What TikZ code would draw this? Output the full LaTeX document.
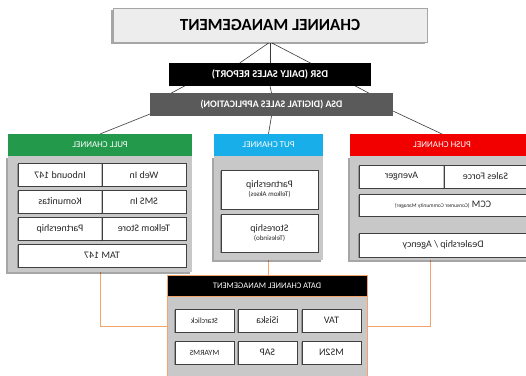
\documentclass[tikz,border=0pt]{standalone}
\usepackage{graphicx}
\usepackage{fontspec}
\setmainfont{Carlito}
\usetikzlibrary{shadows,calc}
\pgfdeclarelayer{bg}
\pgfsetlayers{bg,main}
\definecolor{pullgreen}{HTML}{23994C}
\definecolor{putcyan}{HTML}{17AEEA}
\definecolor{pushred}{HTML}{F20000}
\definecolor{dsagray}{HTML}{5A5A5A}
\definecolor{boxgray}{HTML}{C8C8C8}
\definecolor{titlegray}{HTML}{EDEDED}
\definecolor{linkorange}{HTML}{F3A46C}
\definecolor{linkgray}{HTML}{3A3A3A}
\newcommand{\mr}[1]{\reflectbox{#1}}
\newcommand{\fs}[1]{\fontsize{#1}{#1}\selectfont}
\tikzset{
  rbox/.style n args={2}{rectangle, inner sep=0pt, outer sep=0pt, minimum width=#1, minimum height=#2},
  shad/.style={drop shadow={shadow xshift=-1.6pt, shadow yshift=-1.6pt, opacity=0.35, fill=black}},
  titlebox/.style={draw=gray!70, fill=titlegray, line width=0.5pt, shad, font=\bfseries\fs{17}, text=black},
  barbox/.style={fill=#1, text=white, font=\bfseries\fs{10}},
  headbox/.style={fill=#1, text=white, font=\fs{9}},
  bodybox/.style={fill=boxgray, shad},
  cell/.style={draw=black!75, fill=white, line width=0.7pt, font=\fs{10}, text=black!85,
    drop shadow={shadow xshift=-0.8pt, shadow yshift=-0.8pt, opacity=0.25, fill=black}},
  link/.style={draw=linkgray, line width=0.6pt},
  olink/.style={draw=linkorange, line width=0.9pt},
}
\begin{document}
\begin{tikzpicture}[x=1pt, y=-1pt]
\useasboundingbox (0,0) rectangle (526,375);

% top hierarchy
\node[rbox={314pt}{34pt}, titlebox] (title) at (270,25) {\mr{CHANNEL MANAGEMENT}};
\node[rbox={202pt}{23pt}, barbox=black, font=\bfseries\fs{10.5}] (dsr) at (270,74.5) {\mr{DSR (DAILY SALES REPORT)}};
\node[rbox={243pt}{23pt}, barbox=dsagray] (dsa) at (271.5,104.5) {\mr{DSA (DIGITAL SALES APPLICATION)}};

% PULL channel
\node[rbox={184pt}{116pt}, bodybox] (pullbody) at (100,214) {};
\node[rbox={184pt}{22pt}, headbox=pullgreen] (pullhead) at (100,145) {\mr{PULL CHANNEL}};
\node[rbox={84pt}{23pt}, cell] (pa1) at (60,175) {\mr{Inbound 147}};
\node[rbox={84pt}{23pt}, cell] (pb1) at (144,175) {\mr{Web In}};
\node[rbox={84pt}{23pt}, cell] (pa2) at (60,201.5) {\mr{Komunitas}};
\node[rbox={84pt}{23pt}, cell] (pb2) at (144,201.5) {\mr{SMS In}};
\node[rbox={84pt}{23pt}, cell] (pa3) at (60,228.5) {\mr{Partnership}};
\node[rbox={84pt}{23pt}, cell] (pb3) at (144,228.5) {\mr{Telkom Store}};
\node[rbox={168pt}{23pt}, cell] (pc4) at (102,255.5) {\mr{TAM 147}};

% PUT channel
\node[rbox={109pt}{104pt}, bodybox] (putbody) at (268.5,208) {};
\node[rbox={109pt}{22pt}, headbox=putcyan] (puthead) at (268.5,145) {\mr{PUT CHANNEL}};
\node[rbox={97pt}{39pt}, cell] (put1) at (269.5,190)
  {\mr{\begin{tabular}{@{}c@{}}Partnership\\[-1pt]{\fs{7}(Telkom Akses)}\end{tabular}}};
\node[rbox={97pt}{38pt}, cell] (put2) at (269.5,233.5)
  {\mr{\begin{tabular}{@{}c@{}}Storeship\\[-1pt]{\fs{7}(Telesindo)}\end{tabular}}};

% PUSH channel
\node[rbox={184pt}{104pt}, bodybox] (pushbody) at (442,208) {};
\node[rbox={184pt}{22pt}, headbox=pushred] (pushhead) at (442,145) {\mr{PUSH CHANNEL}};
\node[rbox={85pt}{23pt}, cell] (sa1) at (401.5,176.5) {\mr{Avenger}};
\node[rbox={83pt}{23pt}, cell] (sb1) at (485.5,176.5) {\mr{Sales Force}};
\node[rbox={168pt}{22pt}, cell] (s2) at (443,205) {\mr{CCM {\fs{5.5}(Consumer Community Manager)}}};
\node[rbox={168pt}{24pt}, cell] (s3) at (443,245) {\mr{Dealership / Agency}};

% DATA channel management
\node[rbox={200pt}{94pt}, fill=boxgray, draw=linkorange, line width=0.8pt] (databody) at (267,343) {};
\node[rbox={200pt}{21pt}, fill=black, draw=linkorange, line width=0.8pt, text=white, font=\fs{8.5}] (datahead) at (267,285.5) {\mr{DATA CHANNEL MANAGEMENT}};
\node[rbox={59pt}{23pt}, cell, font=\fs{8}] (d11) at (204.5,320.5) {\mr{Starclick}};
\node[rbox={59pt}{23pt}, cell] (d12) at (267.5,320.5) {\mr{iSiska}};
\node[rbox={59pt}{23pt}, cell] (d13) at (331.5,320.5) {\mr{TAV}};
\node[rbox={59pt}{23pt}, cell, font=\fs{8}] (d21) at (204.5,352.5) {\mr{MYARMS}};
\node[rbox={59pt}{23pt}, cell] (d22) at (267.5,352.5) {\mr{SAP}};
\node[rbox={59pt}{23pt}, cell] (d23) at (331.5,352.5) {\mr{MS2N}};

% connectors
\coordinate (olinkL) at ($(databody.north west)+(0,30)$);
\coordinate (olinkR) at ($(databody.north east)+(0,30)$);
\coordinate (pushdrop) at ($(pushbody.south)+(-12,0)$);
\begin{pgfonlayer}{bg}
  \draw[link] (title.south) -- ($(dsr.north west)!0.35!(dsr.north east)$);
  \draw[link] (title.south) -- ($(dsr.north west)!0.70!(dsr.north east)$);
  \draw[link] (title.south) -- (dsr.north);
  \draw[link] ($(dsr.south west)+(25,-5)$) -- ($(dsa.north west)+(12,5)$);
  \draw[link] ($(dsr.south east)+(-25,-5)$) -- ($(dsa.north east)+(-15,5)$);
  \draw[link] (dsr.south) -- (dsa.north);
  \draw[link] ($(dsa.south west)+(15,-8)$) -- (pullhead.north);
  \draw[link] ($(dsa.south east)+(-15,-12)$) -- (pushhead.north);
  \draw[link] (dsa.south) -- (puthead.north);
  \draw[olink] (pullbody.south) |- (olinkL);
  \draw[olink] (pushdrop) |- (olinkR);
  \draw[olink] (putbody.south) -- (putbody.south |- datahead.north);
\end{pgfonlayer}
\end{tikzpicture}
\end{document}
